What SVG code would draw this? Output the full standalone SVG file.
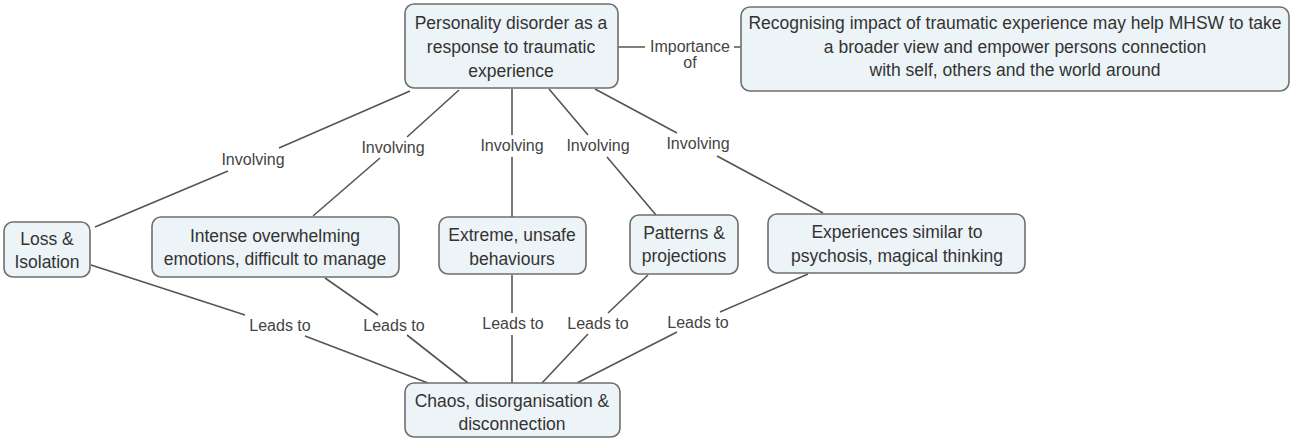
<svg xmlns="http://www.w3.org/2000/svg" width="1295" height="439" viewBox="0 0 1295 439">
<style>
.box{fill:#edf4f7;stroke:#6f6f6f;stroke-width:1.6}
.t{font-family:"Liberation Sans",Arial,sans-serif;font-size:17.5px;fill:#333;text-anchor:middle}
.lbl{font-family:"Liberation Sans",Arial,sans-serif;font-size:16px;fill:#444;text-anchor:middle}
.ln{stroke:#555;stroke-width:1.6;fill:none}
</style>
<rect width="1295" height="439" fill="#fff"/>
<g id="connectors">
<path class="ln" d="M618,47 L645,47 M734,47 L741,47"/>
<path class="ln" d="M410,91 L279,148 M228,171 L95,227"/>
<path class="ln" d="M459,90 L407,137 M380,158 L313,216"/>
<path class="ln" d="M512,89 L512,135 M512,157 L512,217"/>
<path class="ln" d="M549,89 L588,135 M607,157 L656,215"/>
<path class="ln" d="M595,89 L677,133 M717,156 L823,213"/>
<path class="ln" d="M91,265 L245,315 M305,336 L428,383"/>
<path class="ln" d="M325,278 L378,315 M407,335 L468,383"/>
<path class="ln" d="M512,275 L512,313 M512,335 L512,383"/>
<path class="ln" d="M648,275 L608,313 M588,334 L542,383"/>
<path class="ln" d="M808,274 L720,312 M677,332 L577,383"/>
<text class="lbl" x="690" y="52">Importance</text>
<text class="lbl" x="690" y="68">of</text>
<text class="lbl" x="253" y="165">Involving</text>
<text class="lbl" x="393" y="153">Involving</text>
<text class="lbl" x="512" y="151">Involving</text>
<text class="lbl" x="598" y="151">Involving</text>
<text class="lbl" x="698" y="149">Involving</text>
<text class="lbl" x="280" y="331">Leads to</text>
<text class="lbl" x="394" y="331">Leads to</text>
<text class="lbl" x="513" y="329">Leads to</text>
<text class="lbl" x="598" y="329">Leads to</text>
<text class="lbl" x="698" y="328">Leads to</text>
</g>
<g id="node-personality">
<rect class="box" x="405" y="4" width="213" height="84" rx="9"/>
<text class="t" x="511" y="29">Personality disorder as a</text>
<text class="t" x="511" y="53">response to traumatic</text>
<text class="t" x="511" y="77">experience</text>
</g>
<g id="node-recognising">
<rect class="box" x="741" y="7" width="548" height="84" rx="9"/>
<text class="t" x="1015" y="29">Recognising impact of traumatic experience may help MHSW to take</text>
<text class="t" x="1015" y="53">a broader view and empower persons connection</text>
<text class="t" x="1015" y="76">with self, others and the world around</text>
</g>
<g id="node-loss">
<rect class="box" x="4" y="222" width="86" height="55" rx="9"/>
<text class="t" x="47" y="245">Loss &amp;</text>
<text class="t" x="47" y="268">Isolation</text>
</g>
<g id="node-intense">
<rect class="box" x="152" y="217" width="247" height="60" rx="9"/>
<text class="t" x="275" y="242">Intense overwhelming</text>
<text class="t" x="275" y="265">emotions, difficult to manage</text>
</g>
<g id="node-extreme">
<rect class="box" x="439" y="217" width="147" height="57" rx="9"/>
<text class="t" x="512" y="241">Extreme, unsafe</text>
<text class="t" x="512" y="265">behaviours</text>
</g>
<g id="node-patterns">
<rect class="box" x="630" y="215" width="108" height="59" rx="9"/>
<text class="t" x="684" y="239">Patterns &amp;</text>
<text class="t" x="684" y="262">projections</text>
</g>
<g id="node-experiences">
<rect class="box" x="768" y="214" width="257" height="59" rx="9"/>
<text class="t" x="897" y="238">Experiences similar to</text>
<text class="t" x="897" y="262">psychosis, magical thinking</text>
</g>
<g id="node-chaos">
<rect class="box" x="405" y="383" width="215" height="54" rx="9"/>
<text class="t" x="512" y="407">Chaos, disorganisation &amp;</text>
<text class="t" x="512" y="430">disconnection</text>
</g>
</svg>
